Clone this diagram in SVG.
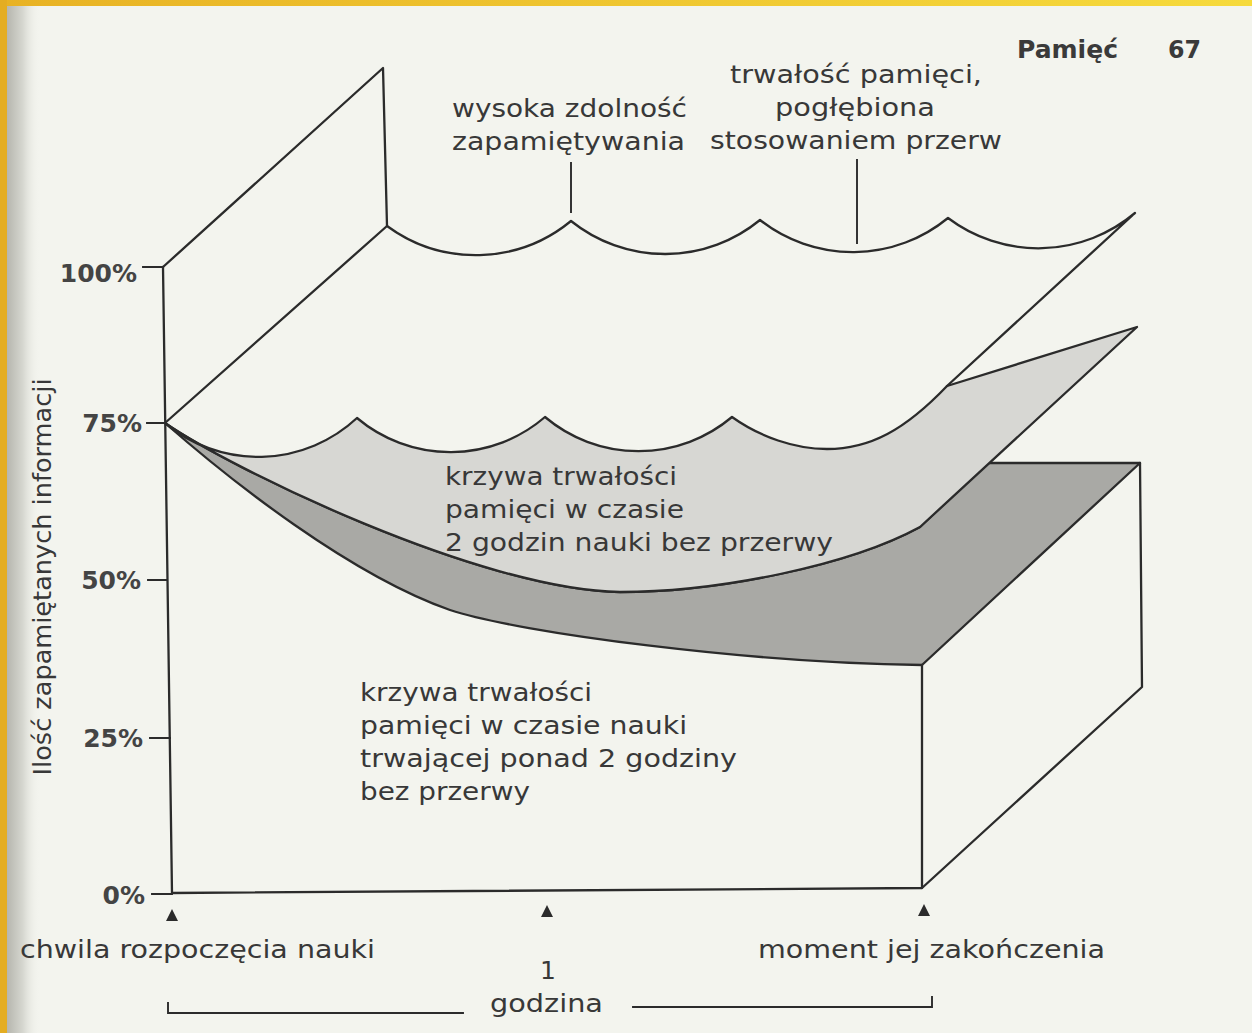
<svg xmlns="http://www.w3.org/2000/svg" width="1252" height="1033" viewBox="0 0 1252 1033">
<defs>
<linearGradient id="shadow" x1="0" y1="0" x2="1" y2="0">
<stop offset="0" stop-color="#b4b4ac"/>
<stop offset="0.5" stop-color="#d6d7d0"/>
<stop offset="1" stop-color="#f3f4ee" stop-opacity="0"/>
</linearGradient>
<linearGradient id="topbar" x1="0" y1="0" x2="1" y2="0">
<stop offset="0" stop-color="#e8b224"/>
<stop offset="1" stop-color="#f6da3c"/>
</linearGradient>
<style>
.ln{fill:none;stroke:#2b2b2b;stroke-width:2.3;stroke-linejoin:round;stroke-linecap:round}
.thin{fill:none;stroke:#2b2b2b;stroke-width:1.9;stroke-linecap:square}
.t{font-family:"DejaVu Sans","Liberation Sans",sans-serif;font-size:25px;fill:#383838}
.ax{font-family:"DejaVu Sans","Liberation Sans",sans-serif;font-size:25px;font-weight:bold;fill:#444}
.hd{font-family:"DejaVu Sans","Liberation Sans",sans-serif;font-size:25px;font-weight:bold;fill:#3a3a3a}
.tri{fill:#2b2b2b}
</style>
</defs>
<rect x="0" y="0" width="1252" height="1033" fill="#f3f4ee"/>
<rect x="6" y="0" width="34" height="1033" fill="url(#shadow)"/>
<rect x="0" y="0" width="1252" height="6" fill="url(#topbar)"/>
<rect x="0" y="0" width="7" height="1033" fill="#e4ad22"/>

<g id="header">
<text class="hd" x="1017" y="58" textLength="101" lengthAdjust="spacingAndGlyphs">Pamięć</text>
<text class="hd" x="1168" y="58" textLength="33" lengthAdjust="spacingAndGlyphs">67</text>
</g>

<g id="dark-surface">
<path d="M165,423 C230,468 480,590 620,592 C720,592 850,565 920,527 L987,463 L1140,463 L922,665 C750,663 520,633 450,610 C350,575 230,480 165,423 Z" fill="#a9a9a5" stroke="#2b2b2b" stroke-width="2.3" stroke-linejoin="round"/>
</g>

<g id="light-surface">
<path d="M165,423 A145,145 0 0 0 357,418 A145,145 0 0 0 545,417 A145,145 0 0 0 732,417 C760,437 795,449 827,449 C870,449 905,430 947,386 L1137,327 L920,527 C850,565 720,592 620,592 C480,590 230,468 165,423 Z" fill="#d7d7d3" stroke="#2b2b2b" stroke-width="2.3" stroke-linejoin="round"/>
</g>

<g id="top-surface">
<path class="ln" d="M165,423 L387,226 A150,150 0 0 0 571,221 A150,150 0 0 0 760,220 A150,150 0 0 0 948,218 A150,150 0 0 0 1135,213 L947,386"/>
</g>

<g id="back-panel">
<path class="ln" d="M163,267 L383,68 L387,226"/>
</g>

<g id="box">
<path class="ln" d="M163,267 L172,893 L922,888 L922,665"/>
<path class="ln" d="M1140,463 L1142,687 L922,888"/>
</g>

<g id="axis">
<path class="thin" d="M143,267 H163 M147,423 H165 M148,580 H167 M150,738 H170 M152,894 H172"/>
<text class="ax" x="137" y="282" text-anchor="end">100%</text>
<text class="ax" x="142" y="432" text-anchor="end">75%</text>
<text class="ax" x="141" y="589" text-anchor="end">50%</text>
<text class="ax" x="143" y="747" text-anchor="end">25%</text>
<text class="ax" x="145" y="904" text-anchor="end">0%</text>
<text class="t" transform="translate(51,577) rotate(-90)" text-anchor="middle" textLength="397" lengthAdjust="spacingAndGlyphs">Ilość zapamiętanych informacji</text>
</g>

<g id="connectors">
<path class="thin" d="M571,163 V212 M857,160 V243"/>
<path class="thin" d="M168,1003 V1013 H463 M633,1007 H932 V997"/>
<path class="tri" d="M172,909 L166,921 L178,921 Z M547,905 L541,917 L553,917 Z M924,904 L918,916 L930,916 Z"/>
</g>

<g id="label-high">
<text class="t" x="452" y="117" textLength="235" lengthAdjust="spacingAndGlyphs">wysoka zdolność</text>
<text class="t" x="452" y="150" textLength="233" lengthAdjust="spacingAndGlyphs">zapamiętywania</text>
</g>

<g id="label-durability">
<text class="t" x="730" y="83" textLength="252" lengthAdjust="spacingAndGlyphs">trwałość pamięci,</text>
<text class="t" x="775" y="116" textLength="160" lengthAdjust="spacingAndGlyphs">pogłębiona</text>
<text class="t" x="710" y="149" textLength="292" lengthAdjust="spacingAndGlyphs">stosowaniem przerw</text>
</g>

<g id="label-2h">
<text class="t" x="445" y="485" textLength="232" lengthAdjust="spacingAndGlyphs">krzywa trwałości</text>
<text class="t" x="445" y="518" textLength="239" lengthAdjust="spacingAndGlyphs">pamięci w czasie</text>
<text class="t" x="445" y="551" textLength="388" lengthAdjust="spacingAndGlyphs">2 godzin nauki bez przerwy</text>
</g>

<g id="label-over2h">
<text class="t" x="360" y="701" textLength="232" lengthAdjust="spacingAndGlyphs">krzywa trwałości</text>
<text class="t" x="360" y="734" textLength="327" lengthAdjust="spacingAndGlyphs">pamięci w czasie nauki</text>
<text class="t" x="360" y="767" textLength="377" lengthAdjust="spacingAndGlyphs">trwającej ponad 2 godziny</text>
<text class="t" x="360" y="800" textLength="170" lengthAdjust="spacingAndGlyphs">bez przerwy</text>
</g>

<g id="time-labels">
<text class="t" x="20" y="958" textLength="355" lengthAdjust="spacingAndGlyphs">chwila rozpoczęcia nauki</text>
<text class="t" x="758" y="958" textLength="347" lengthAdjust="spacingAndGlyphs">moment jej zakończenia</text>
<text class="t" x="548" y="979" text-anchor="middle">1</text>
<text class="t" x="490" y="1012" textLength="113" lengthAdjust="spacingAndGlyphs">godzina</text>
</g>
</svg>
